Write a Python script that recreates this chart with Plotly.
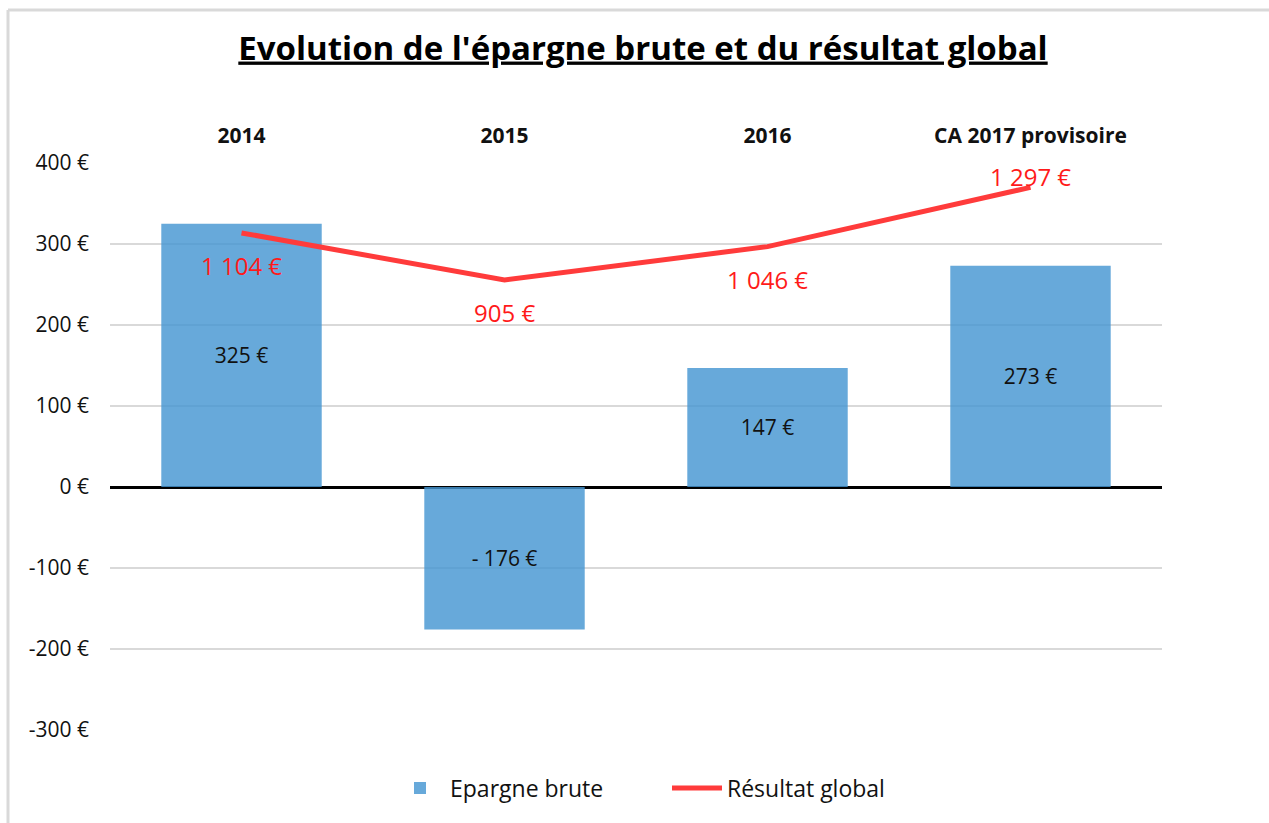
import plotly.graph_objects as go

categories = ["2014", "2015", "2016", "CA 2017 provisoire"]
epargne_brute = [325, -176, 147, 273]
resultat_global = [1104, 905, 1046, 1297]
y_tick_vals = [-300, -200, -100, 0, 100, 200, 300, 400]
y_tick_text = ["-300 €", "-200 €", "-100 €", "0 €", "100 €", "200 €", "300 €", "400 €"]
line_label_shift = [-33, -33, -33, 11]

FONT = "Open Sans"


def fmt_bar(v):
    return f"- {abs(v)} €" if v < 0 else f"{v} €"


def fmt_line(v):
    return f"{v:,}".replace(",", " ") + " €"


W, H = 1269, 823
L, R, T, B = 110, 107, 163, 93
pw, ph = W - L - R, H - T - B


def px_x(p):
    return (p - L) / pw


def px_y(p):
    return (H - B - p) / ph


fig = go.Figure()
fig.add_trace(go.Bar(
    x=categories, y=epargne_brute, name="Epargne brute",
    marker=dict(color="rgba(70,150,210,0.82)", line=dict(width=0)),
    text=[fmt_bar(v) for v in epargne_brute], textposition="inside",
    insidetextanchor="middle", textangle=0,
    textfont=dict(family=FONT, size=21, color="#111111"),
    width=0.61, yaxis="y",
))
fig.add_trace(go.Scatter(
    x=categories, y=resultat_global, name="Résultat global", mode="lines",
    line=dict(color="#ff3b3b", width=5), yaxis="y2",
))

# annotation x given as category index (numeric-looking names would be read as numbers)
for i, (v, s) in enumerate(zip(resultat_global, line_label_shift)):
    fig.add_annotation(x=i, y=v, xref="x", yref="y2", yshift=s, text=fmt_line(v),
                       showarrow=False, font=dict(family=FONT, size=24, color="#ff1a1a"))

fig.update_layout(
    width=W, height=H,
    margin=dict(l=L, r=R, t=T, b=B, autoexpand=False),
    paper_bgcolor="white", plot_bgcolor="white",
    font=dict(family=FONT, color="#111111"),
    title=dict(text="<u><b>Evolution de l'épargne brute et du résultat global</b></u>",
               x=643 / W, xanchor="center", y=1 - 48 / H, yanchor="middle",
               font=dict(family=FONT, size=33, color="#000000")),
    xaxis=dict(type="category", side="top", showgrid=False, showline=False, ticks="",
               range=[-0.5, len(categories) - 0.5],
               tickfont=dict(family=FONT, size=21, color="#111111"),
               ticklabelstandoff=15, tickprefix="<b>", ticksuffix="</b>", automargin=False),
    yaxis=dict(range=[-300, 400], tickvals=y_tick_vals, ticktext=y_tick_text,
               showgrid=True, gridcolor="#d9d9d9", gridwidth=2,
               zeroline=True, zerolinecolor="#000000", zerolinewidth=3,
               showline=False, ticks="", ticklabelstandoff=20, automargin=False,
               tickfont=dict(family=FONT, size=21, color="#111111")),
    yaxis2=dict(range=[-1000, 1400], overlaying="y", visible=False),
    bargap=0.39,
    showlegend=True,
    legend=dict(orientation="h", x=px_x(667), xanchor="center", y=px_y(788), yanchor="middle",
                font=dict(family=FONT, size=23, color="#111111"),
                itemwidth=50, entrywidth=212, entrywidthmode="pixels"),
    shapes=[
        dict(type="line", xref="paper", yref="paper", x0=px_x(8), x1=px_x(W + 5),
             y0=px_y(10), y1=px_y(10), line=dict(color="#d9d9d9", width=3)),
        dict(type="line", xref="paper", yref="paper", x0=px_x(8), x1=px_x(8),
             y0=px_y(10), y1=px_y(H + 5), line=dict(color="#d9d9d9", width=3)),
    ],
)

fig.write_html("out.html", config={"displayModeBar": False},
               post_script="document.body.style.margin='0';document.body.style.overflow='hidden';")
